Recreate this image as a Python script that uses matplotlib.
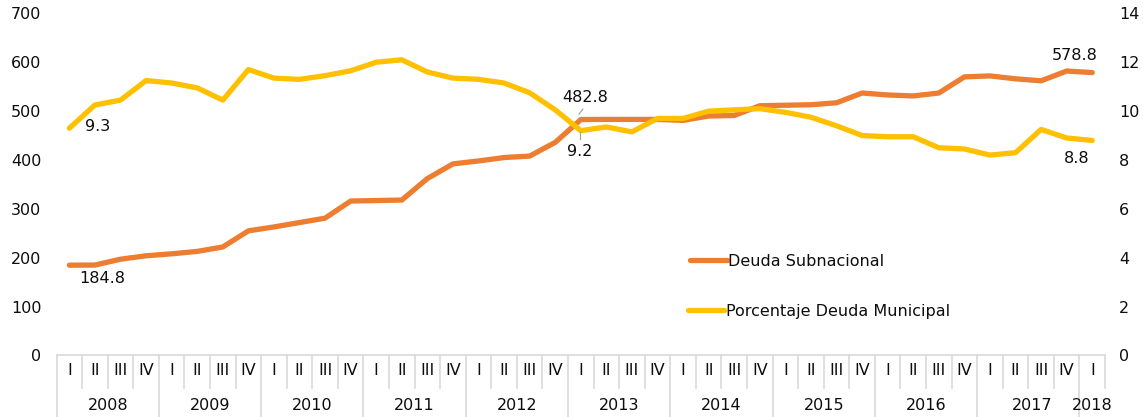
import numpy as np
import matplotlib
matplotlib.use("Agg")
import matplotlib.pyplot as plt
import matplotlib.transforms as mtransforms

plt.rcParams['font.family'] = ['DejaVu Sans']

years = ["2008", "2009", "2010", "2011", "2012", "2013", "2014", "2015", "2016", "2017", "2018"]
quarters = ["I", "II", "III", "IV"]

deuda_subnacional = [184.8, 185, 197, 204, 208, 213, 222, 255, 263, 272, 281,
                     316, 317, 318, 362, 392, 398, 405, 408, 436, 482.8,
                     483, 483, 483, 481, 490, 491, 511, 512, 513, 517,
                     537, 533, 531, 537, 570, 572, 566, 562, 582, 578.8]
pct_deuda_municipal = [9.3, 10.25, 10.45, 11.25, 11.15, 10.95, 10.45, 11.7, 11.35, 11.3, 11.45,
                       11.65, 12.0, 12.1, 11.6, 11.35, 11.3, 11.15, 10.75, 10.05, 9.2,
                       9.35, 9.15, 9.7, 9.7, 10.0, 10.05, 10.1, 9.95, 9.75, 9.4,
                       9.0, 8.95, 8.95, 8.5, 8.45, 8.2, 8.3, 9.25, 8.9, 8.8]

orange = "#ED7D31"
yellow = "#FFC000"
grid_gray = "#D9D9D9"
txt = "#0d0d0d"
fs = 11.5

n = len(deuda_subnacional)
x = np.arange(n)

fig = plt.figure(figsize=(11.43, 4.17), dpi=100)
ax = fig.add_axes([0.0495, 0.1475, 0.9173, 0.8205])
ax2 = ax.twinx()

ax.plot(x, deuda_subnacional, color=orange, lw=3.8, solid_capstyle='round', zorder=3)
ax2.plot(x, pct_deuda_municipal, color=yellow, lw=3.8, solid_capstyle='round', zorder=3)

ax.set_xlim(-0.5, n - 0.5)
ax.set_ylim(0, 700)
ax2.set_ylim(0, 14)
ax.set_yticks(np.arange(0, 701, 100))
ax2.set_yticks(np.arange(0, 15, 2))
ax.tick_params(axis='y', length=0, pad=11, labelsize=fs, labelcolor=txt)
ax2.tick_params(axis='y', length=0, pad=10, labelsize=fs, labelcolor=txt)
ax.set_xticks([])
for a in (ax, ax2):
    for s in a.spines.values():
        s.set_visible(False)

# category axis: baseline, quarter boxes, year boxes
ax.axhline(0, color=grid_gray, lw=1.2, clip_on=False)
trans = mtransforms.blended_transform_factory(ax.transData, ax.transAxes)
for i in range(n + 1):
    xb = i - 0.5
    y0 = -0.185 if (i % 4 == 0 and i < n) else -0.095
    ax.plot([xb, xb], [0, y0], color=grid_gray, lw=1.2, transform=trans, clip_on=False)
for i in range(n):
    ax.text(i, -0.045, quarters[i % 4], transform=trans, ha='center', va='center',
            fontsize=fs, color=txt)
for k, yr in enumerate(years):
    first = 4 * k
    last = min(4 * k + 3, n - 1)
    shift = 0.15 if yr == "2017" else 0
    ax.text((first + last) / 2 + shift, -0.145, yr, transform=trans,
            ha='center', va='center', fontsize=fs, color=txt)

# data labels
ax.text(1.3, 157, "184.8", ha='center', va='center', fontsize=fs, color=txt)
ax2.text(1.1, 9.35, "9.3", ha='center', va='center', fontsize=fs, color=txt)
ax.text(20.16, 528, "482.8", ha='center', va='center', fontsize=fs, color=txt)
ax.plot([20.08, 19.93], [504, 494], color='#A6A6A6', lw=0.9, zorder=4)
ax2.text(19.95, 8.33, "9.2", ha='center', va='center', fontsize=fs, color=txt)
ax2.plot([19.98, 19.98], [9.15, 8.85], color='#A6A6A6', lw=0.9, zorder=4)
ax.text(39.33, 614, "578.8", ha='center', va='center', fontsize=fs, color=txt)
ax2.text(39.4, 8.08, "8.8", ha='center', va='center', fontsize=fs, color=txt)

# legend entries
h1 = ax.get_lines()[0]
h2 = ax2.get_lines()[0]
leg_kw = dict(loc='center left', frameon=False, fontsize=fs, handlelength=2.3,
              handletextpad=0.1, borderaxespad=0, borderpad=0, labelcolor=txt)
ax.legend([h1], ["Deuda Subnacional"], bbox_to_anchor=(0.604, 0.276), **leg_kw)
ax2.legend([h2], ["Porcentaje Deuda Municipal"], bbox_to_anchor=(0.602, 0.13), **leg_kw)

fig.savefig("out.png", dpi=100)
